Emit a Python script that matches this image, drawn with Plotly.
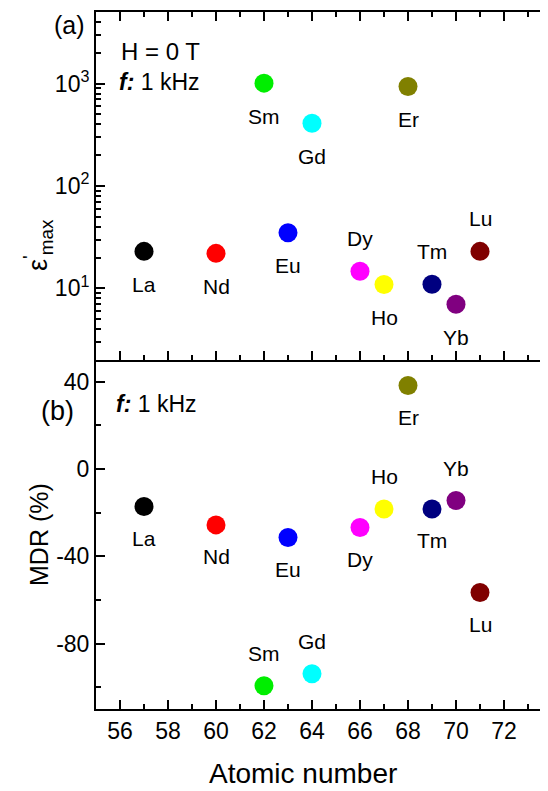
import numpy as np
import plotly.graph_objects as go

elements = ["La", "Nd", "Sm", "Eu", "Gd", "Dy", "Ho", "Er", "Tm", "Yb", "Lu"]
atomic_number = [57, 60, 62, 63, 64, 66, 67, 68, 69, 70, 71]
eps_max = [23, 22, 1010, 35, 410, 14.7, 10.9, 935, 11, 7.0, 23]
mdr = [-17.2, -25.6, -99.3, -31.4, -93.8, -26.8, -18.3, 38.3, -18.3, -14.4, -56.6]
colors = ["#000000", "#ff0000", "#00ee00", "#0000ff", "#00ffff", "#ff00ff",
          "#ffff00", "#808000", "#000080", "#800080", "#800000"]
# label placement: +1 above, -1 below
pos_top = [-1, -1, -1, -1, -1, 1, -1, -1, 1, -1, 1]
pos_bot = [-1, -1, 1, -1, 1, -1, 1, -1, -1, 1, -1]

FONT = "Liberation Sans, Arial, sans-serif"
OFF = 8  # page body margin
W, H = 548 - OFF, 791 - OFF
# plot area in page pixels: left 96, right 548, top 12, bottom 709
ML, MR, MT, MB = 96 - OFF, 0, 12 - OFF, 791 - 709
PW = W - ML - MR
PH = H - MT - MB
split = 360  # page pixel y where panels meet
dom_top = [(709 - split) / PH, 1.0]
dom_bot = [0.0, (709 - split) / PH]

fig = go.Figure()
fig.add_trace(go.Scatter(x=atomic_number, y=eps_max, mode="markers",
                         marker=dict(color=colors, size=19, line=dict(width=0)),
                         xaxis="x2", yaxis="y2", showlegend=False))
fig.add_trace(go.Scatter(x=atomic_number, y=mdr, mode="markers",
                         marker=dict(color=colors, size=19, line=dict(width=0)),
                         xaxis="x", yaxis="y", showlegend=False))

ann = []
for el, xv, yv, p in zip(elements, atomic_number, eps_max, pos_top):
    ann.append(dict(x=xv, y=np.log10(yv), xref="x2", yref="y2", text=el, showarrow=False,
                    yshift=33 * p, font=dict(size=21, family=FONT, color="black")))
for el, xv, yv, p in zip(elements, atomic_number, mdr, pos_bot):
    ann.append(dict(x=xv, y=yv, xref="x", yref="y", text=el, showarrow=False,
                    yshift=32 * p, font=dict(size=21, family=FONT, color="black")))

def px(xp, yp):
    # page pixel -> paper fraction
    return (xp - 96) / PW, (709 - yp) / PH

def add_text(text, xp, yp, size, xanchor="center", angle=0):
    x, y = px(xp, yp)
    ann.append(dict(x=x, y=y, xref="paper", yref="paper", text=text, showarrow=False,
                    xanchor=xanchor, yanchor="middle", textangle=angle,
                    font=dict(size=size, family=FONT, color="black")))

add_text("(a)", 69, 25, 25)
add_text("H = 0 T", 119, 52, 24, xanchor="left")
add_text("<b><i>f:</i></b> 1 kHz", 117, 82, 23, xanchor="left")
add_text("<b><i>f:</i></b> 1 kHz", 114, 404, 23, xanchor="left")
add_text("(b)", 57, 411, 27)
add_text("Atomic number", 303, 773, 28)
add_text("ε<sup>'</sup><sub>max</sub>", 38, 245, 27, angle=-90)
add_text("MDR (%)", 39, 535, 25, angle=-90)

xr = [55, 55 + PW / 24.0]
xcommon = dict(range=xr, showline=True, linecolor="black", linewidth=2,
               ticks="inside", ticklen=9, tickwidth=2, tickcolor="black",
               tick0=56, dtick=2, showgrid=False, zeroline=False,
               minor=dict(ticks="inside", ticklen=5, tickwidth=2, tickcolor="black", dtick=1))

minor_log = [d * 10 ** e for e in range(0, 4) for d in range(2, 10) if d * 10 ** e <= 5000]

fig.update_layout(
    width=W, height=H,
    margin=dict(l=ML, r=MR, t=MT, b=MB),
    plot_bgcolor="white", paper_bgcolor="white",
    font=dict(family=FONT, color="black", size=23),
    xaxis=dict(**xcommon, anchor="y", domain=[0, 1],
               tickfont=dict(size=23, family=FONT, color="black")),
    xaxis2=dict(**xcommon, anchor="y2", domain=[0, 1], matches="x",
                showticklabels=False, mirror="ticks"),
    yaxis=dict(domain=dom_bot, range=[-110, 50], anchor="x",
               showline=True, linecolor="black", linewidth=2,
               ticks="inside", ticklen=9, tickwidth=2, tickcolor="black",
               tickvals=[-80, -40, 0, 40], ticktext=["-80", "-40", "0", "40"],
               tickfont=dict(size=23, family=FONT, color="black"),
               showgrid=False, zeroline=False,
               minor=dict(ticks="inside", ticklen=5, tickwidth=2, tickcolor="black",
                          tickmode="array", tickvals=[-100, -60, -20, 20])),
    yaxis2=dict(domain=dom_top, type="log", range=[np.log10(2), np.log10(5000)], anchor="x2",
                showline=True, linecolor="black", linewidth=2,
                ticks="inside", ticklen=9, tickwidth=2, tickcolor="black",
                tickvals=[10, 100, 1000],
                ticktext=["10<sup>1</sup>", "10<sup>2</sup>", "10<sup>3</sup>"],
                tickfont=dict(size=23, family=FONT, color="black"),
                showgrid=False, zeroline=False,
                minor=dict(ticks="inside", ticklen=5, tickwidth=2, tickcolor="black",
                           tickmode="array", tickvals=minor_log)),
    annotations=ann,
)

fig.write_html("out.html")
